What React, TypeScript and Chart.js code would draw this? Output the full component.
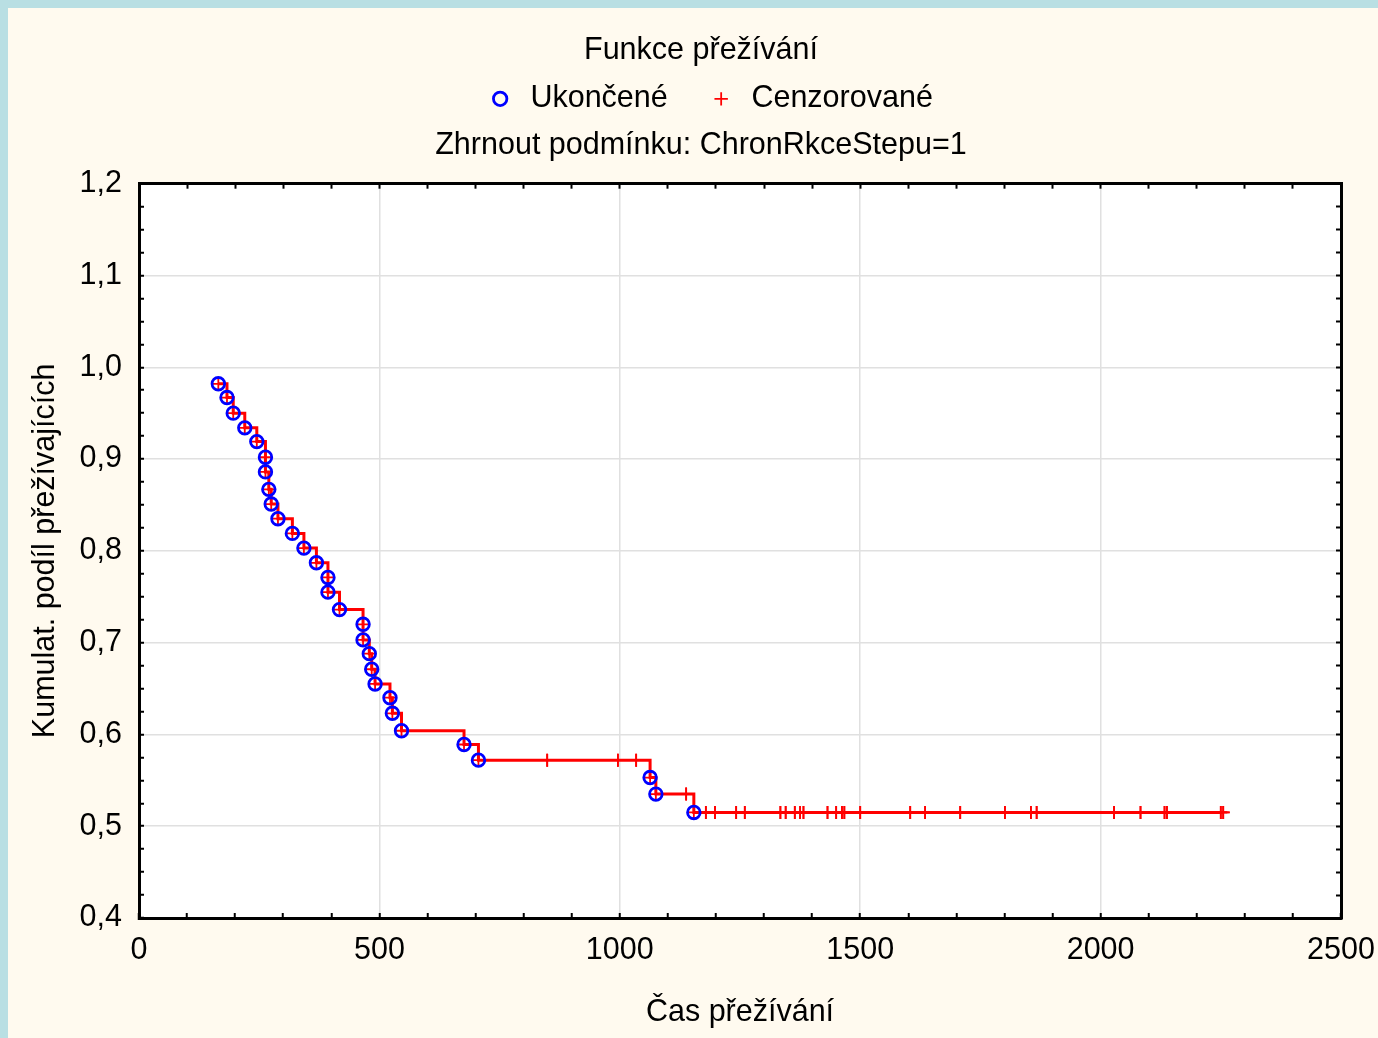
import React, { useEffect, useRef } from 'react';
import { Chart, registerables } from 'chart.js';

Chart.register(...registerables);

// ---------- data ----------
const eventTimes = [165, 183, 196, 220, 245, 263, 263, 270, 275, 289, 319, 343, 369, 393, 393, 417, 466, 466, 479, 484, 491, 522, 527, 546, 676, 706, 1063, 1075, 1154];
const eventSurvival = [0.982, 0.967, 0.950, 0.934, 0.919, 0.902, 0.886, 0.867, 0.851, 0.835, 0.819, 0.803, 0.787, 0.771, 0.755, 0.736, 0.720, 0.703, 0.688, 0.671, 0.655, 0.640, 0.623, 0.604, 0.589, 0.572, 0.553, 0.535, 0.515];
const censoredTimes = [849, 996, 1034, 1138, 1179, 1198, 1242, 1260, 1334, 1345, 1364, 1375, 1382, 1432, 1450, 1462, 1467, 1500, 1604, 1635, 1708, 1801, 1855, 1867, 2028, 2083, 2133, 2138, 2250, 2255];
const censoredSurvival = [0.572, 0.572, 0.572, 0.535, 0.515, 0.515, 0.515, 0.515, 0.515, 0.515, 0.515, 0.515, 0.515, 0.515, 0.515, 0.515, 0.515, 0.515, 0.515, 0.515, 0.515, 0.515, 0.515, 0.515, 0.515, 0.515, 0.515, 0.515, 0.515, 0.515];

const xTickLabels = [0, 500, 1000, 1500, 2000, 2500];
const yTickLabels = [0.4, 0.5, 0.6, 0.7, 0.8, 0.9, 1.0, 1.1, 1.2];

const titleText = 'Funkce přežívání';
const subtitleText = 'Zhrnout podmínku: ChronRkceStepu=1';
const eventLabel = 'Ukončené';
const censoredLabel = 'Cenzorované';
const xAxisTitle = 'Čas přežívání';
const yAxisTitle = 'Kumulat. podíl přežívajících';

// ---------- style ----------
const FONT = "'Liberation Sans', Arial, sans-serif";
const FS = 30.5;
const RED = '#ff0000';
const BLUE = '#0000ff';
const GRID = '#e0e0e0';
const LEGEND_SHIFT = 8;

const eventPoints = eventTimes.map((t, i) => ({ x: t, y: eventSurvival[i] }));
const censoredPoints = censoredTimes.map((t, i) => ({ x: t, y: censoredSurvival[i] }));
const linePoints = [...eventPoints, ...censoredPoints].sort((a, b) => a.x - b.x || b.y - a.y);

const isMajorX = (v: number) => xTickLabels.some((m) => Math.abs(m - v) < 1e-6);
const majorY = (v: number) => yTickLabels.find((m) => Math.abs(m - v) < 1e-6);

const bgPlugin = {
  id: 'bgPlugin',
  afterLayout(chart: any) {
    if (chart.legend) {
      chart.legend.left += LEGEND_SHIFT;
      chart.legend.right += LEGEND_SHIFT;
    }
  },
  beforeDraw(chart: any) {
    const { ctx, chartArea, width, height } = chart;
    ctx.save();
    ctx.fillStyle = '#fffaef';
    ctx.fillRect(0, 0, width, height);
    ctx.fillStyle = '#ffffff';
    ctx.fillRect(chartArea.left, chartArea.top, chartArea.right - chartArea.left, chartArea.bottom - chartArea.top);
    ctx.restore();
  },
};

export default function App() {
  const ref = useRef<HTMLCanvasElement>(null);

  useEffect(() => {
    document.body.style.background = '#b9dfe3';
    document.body.style.margin = '8px 0 0 8px';
    document.documentElement.style.overflow = 'hidden';

    const tickFont = { family: FONT, size: FS };
    const chart = new Chart(ref.current as HTMLCanvasElement, {
      type: 'line',
      data: {
        datasets: [
          {
            label: eventLabel,
            data: eventPoints,
            showLine: false,
            pointStyle: 'circle',
            pointRadius: 6.3,
            pointBorderWidth: 2.8,
            pointBorderColor: BLUE,
            pointBackgroundColor: 'rgba(0,0,0,0)',
            borderColor: BLUE,
            backgroundColor: 'rgba(0,0,0,0)',
            order: 0,
          },
          {
            label: censoredLabel,
            data: censoredPoints,
            showLine: false,
            pointStyle: 'cross',
            pointRadius: 6.5,
            pointBorderWidth: 1.8,
            pointBorderColor: RED,
            pointBackgroundColor: RED,
            borderColor: RED,
            backgroundColor: RED,
            order: 1,
          },
          {
            label: '',
            data: linePoints,
            stepped: 'before',
            borderColor: RED,
            borderWidth: 3,
            fill: false,
            pointStyle: 'cross',
            pointRadius: 6.5,
            pointBorderWidth: 1.8,
            pointBorderColor: RED,
            pointBackgroundColor: RED,
            order: 2,
          },
        ],
      },
      options: {
        animation: false,
        responsive: false,
        devicePixelRatio: 1,
        events: [],
        layout: { padding: { left: 16, right: 0, top: 0, bottom: 0 } },
        plugins: {
          tooltip: { enabled: false },
          title: {
            display: true,
            text: titleText,
            color: '#000',
            font: { family: FONT, size: FS, weight: 'normal' },
            padding: { top: 24, bottom: 2 },
          },
          legend: {
            display: true,
            position: 'top',
            weight: 1800,
            labels: {
              color: '#000',
              font: { family: FONT, size: FS },
              usePointStyle: true,
              boxWidth: 30,
              boxHeight: 9.5,
              padding: 13,
              generateLabels: (chart: any) => {
                const items = Chart.defaults.plugins.legend.labels.generateLabels(chart);
                return items.map((it: any) => (it.text === eventLabel ? { ...it, text: eventLabel + '   ' } : it));
              },
              filter: (item: any) => item.text !== '',
            },
          },
          subtitle: {
            display: true,
            text: subtitleText,
            color: '#000',
            font: { family: FONT, size: FS, weight: 'normal' },
            padding: { top: 3, bottom: 20 },
          },
        },
        scales: {
          x: {
            type: 'linear',
            position: 'bottom',
            min: 0,
            max: 2500,
            ticks: {
              stepSize: 100,
              autoSkip: false,
              maxRotation: 0,
              minRotation: 0,
              padding: 19,
              color: '#000',
              font: tickFont,
              callback: (v: any) => (isMajorX(Number(v)) ? String(v) : ''),
            },
            grid: {
              drawOnChartArea: true,
              color: (c: any) => {
                const v = c.tick ? c.tick.value : -1;
                return isMajorX(v) && v > 0 && v < 2500 ? GRID : 'rgba(0,0,0,0)';
              },
              lineWidth: 1.5,
              tickLength: -5,
              tickColor: '#000',
              tickWidth: 2,
            },
            border: { color: '#000', width: 3 },
            title: {
              display: true,
              text: xAxisTitle,
              color: '#000',
              font: { family: FONT, size: FS },
              padding: { top: 0, bottom: 7 },
            },
            afterFit: (s: any) => {
              s.height = 120;
              s.paddingLeft = 0;
              s.paddingRight = 0;
            },
          },
          y: {
            type: 'linear',
            position: 'left',
            min: 0.4,
            max: 1.2,
            ticks: {
              stepSize: 0.025,
              autoSkip: false,
              padding: 22,
              color: '#000',
              font: tickFont,
              callback: (v: any) => {
                const m = majorY(Number(v));
                return m === undefined ? '' : m.toFixed(1).replace('.', ',');
              },
            },
            grid: {
              drawOnChartArea: true,
              color: (c: any) => {
                const v = c.tick ? c.tick.value : -1;
                const m = majorY(v);
                return m !== undefined && m > 0.41 && m < 1.19 ? GRID : 'rgba(0,0,0,0)';
              },
              lineWidth: 1.5,
              tickLength: -5,
              tickColor: '#000',
              tickWidth: 2,
            },
            border: { color: '#000', width: 3 },
            title: {
              display: true,
              text: yAxisTitle,
              color: '#000',
              font: { family: FONT, size: FS },
              padding: { top: 3, bottom: 0 },
            },
            afterFit: (s: any) => {
              s.width = 115;
              s.paddingTop = 0;
              s.paddingBottom = 0;
            },
          },
          x2: {
            type: 'linear',
            position: 'top',
            min: 0,
            max: 2500,
            ticks: { display: false, stepSize: 100, autoSkip: false },
            grid: { drawOnChartArea: false, tickLength: -5, tickColor: '#000', tickWidth: 2 },
            border: { color: '#000', width: 3 },
            afterFit: (s: any) => {
              s.height = 0;
              s.paddingLeft = 0;
              s.paddingRight = 0;
            },
          },
          y2: {
            type: 'linear',
            position: 'right',
            min: 0.4,
            max: 1.2,
            ticks: { display: false, stepSize: 0.025, autoSkip: false },
            grid: { drawOnChartArea: false, tickLength: -5, tickColor: '#000', tickWidth: 2 },
            border: { color: '#000', width: 3 },
            afterFit: (s: any) => {
              s.width = 37;
              s.paddingTop = 0;
              s.paddingBottom = 0;
            },
          },
        },
      } as any,
      plugins: [bgPlugin],
    });
    return () => chart.destroy();
  }, []);

  return (
    <div style={{ width: 1370, height: 1030, background: '#fffaef' }}>
      <canvas ref={ref} width={1370} height={1030} style={{ display: 'block' }} />
    </div>
  );
}
